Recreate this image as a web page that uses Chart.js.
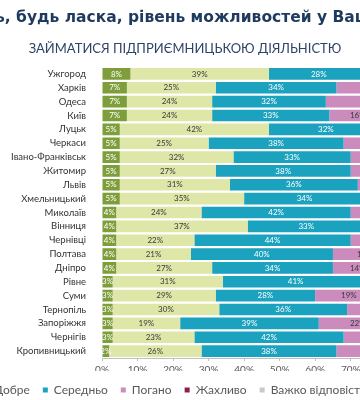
<!DOCTYPE html>
<html>
<head>
<meta charset="utf-8">
<script src="https://cdn.jsdelivr.net/npm/chart.js@4/dist/chart.umd.min.js"></script>
<style>
  body { margin:0; width:360px; height:400px; overflow:hidden; position:relative; background:#fff; }
  #wrap { position:absolute; left:-122px; top:0; }
  .title { position:absolute; white-space:nowrap; }
  #t1 { top:8px; left:-60px; font:bold 15.5px "DejaVu Sans"; color:#1f3a5f; }
  #t2 { top:40px; left:0; width:370px; text-align:center; font:13px Lato; color:#2e4466; }
</style>
</head>
<body>
<div id="wrap"><canvas id="chart" width="595" height="406"></canvas></div>
<div class="title" id="t1">Оцініть, будь ласка, рівень можливостей у Вашому місті</div>
<div class="title" id="t2">ЗАЙМАТИСЯ ПІДПРИЄМНИЦЬКОЮ ДІЯЛЬНІСТЮ</div>
<script>
// cities, top to bottom
const cities = ['Ужгород','Харків','Одеса','Київ','Луцьк','Черкаси','Івано-Франківськ','Житомир','Львів','Хмельницький','Миколаїв','Вінниця','Чернівці','Полтава','Дніпро','Рівне','Суми','Тернопіль','Запоріжжя','Чернігів','Кропивницький'];

const veryGood = [8,7,7,7,5,5,5,5,5,5,4,4,4,4,4,3,3,3,3,3,2];
const good     = [39,25,24,24,42,25,32,27,31,35,24,37,22,21,27,31,29,30,19,23,26];
const average  = [28,34,32,33,32,38,33,38,36,34,42,33,44,40,34,41,28,36,39,42,38];
const bad      = [15,22,24,16,12,18,19,18,16,14,17,13,16,18,14,14,19,17,22,17,20];
const terrible = [4,6,6,5,3,5,4,5,4,4,6,4,5,8,7,4,9,6,9,6,6];
const hard     = [6,6,7,15,6,9,7,7,8,8,7,9,9,9,14,7,12,8,8,9,8];

const seriesNames = ['Дуже добре','Добре','Середньо','Погано','Жахливо','Важко відповісти'];
const seriesColors = ['#7d9e3b','#dfe7a8','#1ba2bf','#cb8cbd','#8c1f4e','#c9c9c9'];
const labelColors = ['#fff','#3a3a3a','#fff','#3a3a3a','#fff','#3a3a3a'];

// value labels inside the segments
const barLabels = {
    id:'barLabels',
    afterDatasetsDraw(chart){
        const ctx = chart.ctx;
        ctx.save();
        ctx.font = '8px Lato';
        ctx.textAlign = 'center';
        ctx.textBaseline = 'middle';
        chart.data.datasets.forEach((ds, i) => {
            const meta = chart.getDatasetMeta(i);
            meta.data.forEach((bar, j) => {
                const p = bar.getCenterPoint();
                ctx.fillStyle = labelColors[i];
                ctx.fillText(ds.data[j] + '%', p.x, p.y);
            });
        });
        ctx.restore();
    }
};

new Chart(document.getElementById('chart').getContext('2d'), {
    type:'bar',
    data:{
        labels:cities,
        datasets:[veryGood, good, average, bad, terrible, hard].map((d, i) => ({
            label:seriesNames[i],
            data:d,
            backgroundColor:seriesColors[i],
            borderWidth:0,
            categoryPercentage:1,
            barPercentage:0.84
        }))
    },
    options:{
        indexAxis:'y',
        responsive:false,
        animation:false,
        layout:{ padding:{ top:67, right:0, bottom:0, left:0 } },
        plugins:{
            legend:{
                position:'bottom',
                align:'start',
                labels:{ boxWidth:5, boxHeight:5, padding:13, color:'#595959', font:{ family:'Lato', size:12 } }
            },
            tooltip:{ enabled:false }
        },
        scales:{
            x:{
                stacked:true,
                min:0,
                max:100,
                ticks:{ stepSize:10, color:'#595959', font:{ family:'Lato', size:10 }, callback:v => v + '%' },
                grid:{ drawOnChartArea:false, tickLength:3, color:'#bfbfbf' },
                border:{ color:'#bfbfbf' },
                afterFit:s => { s.height = 13; }
            },
            y:{
                stacked:true,
                grid:{ display:false },
                border:{ display:false },
                ticks:{ autoSkip:false, color:'#333', padding:8, font:{ family:'Lato', size:9.5 } },
                afterFit:s => { s.width = 224; }
            }
        }
    },
    plugins:[barLabels]
});
</script>
</body>
</html>
